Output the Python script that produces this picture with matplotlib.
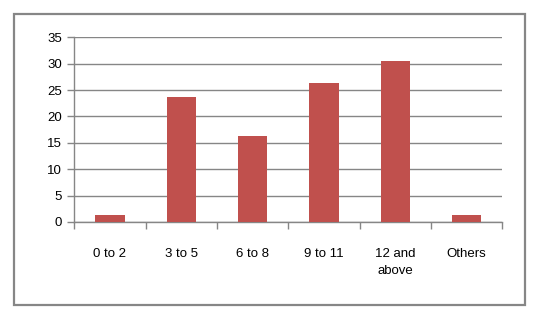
import matplotlib
matplotlib.use("Agg")
import matplotlib.pyplot as plt
from matplotlib.patches import Rectangle

categories = ["0 to 2", "3 to 5", "6 to 8", "9 to 11", "12 and\nabove", "Others"]
values = [1.3, 23.7, 16.3, 26.3, 30.5, 1.3]
yticks = [0, 5, 10, 15, 20, 25, 30, 35]

W, H = 536, 318
fig = plt.figure(figsize=(W / 100, H / 100), dpi=100)
fig.patch.set_facecolor("white")

# outer border
fig.patches.append(Rectangle((14.5 / W, 1 - 305 / H), (525 - 14.5) / W, (305 - 13.5) / H,
                             transform=fig.transFigure, fill=False,
                             edgecolor="#868686", linewidth=1.6, zorder=0))

ax = fig.add_axes([74.3 / W, 1 - 222 / H, (502.3 - 74.3) / W, (222 - 37.3) / H])
x = list(range(len(categories)))
ax.bar(x, values, width=0.41, color="#C0504D", zorder=3)
ax.set_xlim(-0.5, len(categories) - 0.5)
ax.set_ylim(0, 35)
ax.set_yticks(yticks)
ax.set_yticklabels([str(v) for v in yticks], fontsize=9.5, family="Liberation Sans")
ax.yaxis.grid(True, color="#868686", linewidth=1, zorder=0)
ax.set_axisbelow(True)

ax.set_xticks([i - 0.5 for i in range(len(categories) + 1)])
ax.set_xticklabels([])
ax.set_xticks(x, minor=True)
ax.set_xticklabels(categories, minor=True, fontsize=9.5, family="Liberation Sans",
                   linespacing=1.5, va="top")
ax.tick_params(axis="x", which="major", length=5, color="#868686", width=1)
ax.tick_params(axis="x", which="minor", length=0, pad=19)
ax.tick_params(axis="y", length=5, color="#868686", width=1, pad=4)

for s in ["top", "right"]:
    ax.spines[s].set_visible(False)
for s in ["left", "bottom"]:
    ax.spines[s].set_color("#868686")
    ax.spines[s].set_linewidth(1)

fig.savefig("out.png", dpi=100)
